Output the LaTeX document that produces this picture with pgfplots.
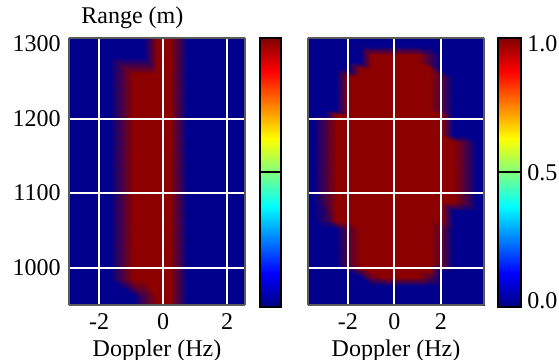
\documentclass[border=0pt]{standalone}
\usepackage{fontspec}
\setmainfont{Liberation Serif}
\usepackage{pgfplots}
\pgfplotsset{compat=1.18}
\pgfplotsset{colormap={navyred}{rgb255=(0,0,140) rgb255=(140,0,0)}}
\pgfplotsset{
  panel/.style={
    scale only axis, width=88bp, height=133.5bp,
    view={0}{90}, axis on top,
    ymin=950, ymax=1308,
    xtick={-2,0,2}, ytick={1000,1100,1200},
    grid=major, grid style={white, line width=1bp},
    major tick length=0pt, ztick=\empty,
    axis line style={black!65, line width=0.6bp},
    /pgf/number format/assume math mode=true,
    /pgf/number format/1000 sep={},
    xlabel={Doppler (Hz)},
    xlabel style={yshift=3bp},
    colormap/jet, point meta min=0, point meta max=1,
    colorbar,
  },
  cbar/.style={
    at={(parent axis.north east)}, anchor=north west,
    height=134.5bp, axis on top,
    ymajorgrids, major grid style={black, line width=1bp},
    axis line style={black, line width=1bp},
    major tick length=0pt,
  },
}
\begin{document}
\fontsize{12bp}{14bp}\selectfont
\begin{tikzpicture}[font=\fontsize{12bp}{14bp}\selectfont]
\useasboundingbox (-34.5bp,-27.5bp) rectangle (245bp,152.5bp);
% left panel
\begin{axis}[panel, name=left, at={(0,0)}, anchor=south west,
  xmin=-2.94, xmax=2.56,
  extra y ticks={1300}, extra y tick style={grid=none},
  colorbar shift/.style={xshift=7.5bp},
  colorbar style={cbar, width=10.5bp, ytick={0.5}, yticklabels={}},
]
\addplot3[surf, shader=interp, colormap name=navyred, mesh/rows=6, mesh/cols=8] coordinates {
(-3,940,0) (-1.66,940,0) (-0.94,940,0) (-0.6,940,0.5) (-0.19,940,1) (0.22,940,1) (0.75,940,0) (2.8,940,0)
(-3,962,0) (-1.66,962,0) (-0.94,962,0) (-0.6,962,0.5) (-0.19,962,1) (0.22,962,1) (0.75,962,0) (2.8,962,0)
(-3,985,0) (-1.66,985,0) (-0.94,985,1) (-0.6,985,1) (-0.19,985,1) (0.22,985,1) (0.75,985,0) (2.8,985,0)
(-3,1260,0) (-1.66,1260,0) (-0.94,1260,1) (-0.6,1260,1) (-0.19,1260,1) (0.22,1260,1) (0.75,1260,0) (2.8,1260,0)
(-3,1283,0) (-1.66,1283,0) (-0.94,1283,0) (-0.6,1283,0) (-0.19,1283,1) (0.22,1283,1) (0.75,1283,0) (2.8,1283,0)
(-3,1320,0) (-1.66,1320,0) (-0.94,1320,0) (-0.6,1320,0) (-0.19,1320,1) (0.22,1320,1) (0.75,1320,0) (2.8,1320,0)
};
\end{axis}
\node[anchor=base west, xshift=2bp, yshift=7bp] at (left.north west) {Range (m)};
% right panel
\begin{axis}[panel, at={(119.5bp,0)}, anchor=south west,
  xmin=-3.72, xmax=3.85, yticklabels={},
  colorbar shift/.style={xshift=7bp},
  colorbar style={cbar, width=11.5bp, ytick={0.5}, yticklabels={0.5},
    extra y ticks={0.022,0.978}, extra y tick labels={0.0,1.0},
    extra y tick style={grid=none},
    yticklabel style={xshift=-1bp}},
]
\addplot3[surf, shader=interp, colormap name=navyred, mesh/rows=20, mesh/cols=17] coordinates {
(-4,940,0) (-3.5,940,0) (-3,940,0) (-2.5,940,0) (-2,940,0) (-1.5,940,0) (-1,940,0) (-0.5,940,0) (0,940,0) (0.5,940,0) (1,940,0) (1.5,940,0) (2,940,0) (2.5,940,0) (3,940,0) (3.5,940,0) (4,940,0)
(-4,975,0) (-3.5,975,0) (-3,975,0) (-2.5,975,0) (-2,975,0) (-1.5,975,0) (-1,975,0) (-0.5,975,0) (0,975,0) (0.5,975,0) (1,975,0) (1.5,975,0) (2,975,0) (2.5,975,0) (3,975,0) (3.5,975,0) (4,975,0)
(-4,987,0) (-3.5,987,0) (-3,987,0) (-2.5,987,0) (-2,987,0) (-1.5,987,0) (-1,987,0.7) (-0.5,987,1) (0,987,1) (0.5,987,1) (1,987,1) (1.5,987,0.6) (2,987,0) (2.5,987,0) (3,987,0) (3.5,987,0) (4,987,0)
(-4,996,0) (-3.5,996,0) (-3,996,0) (-2.5,996,0) (-2,996,0) (-1.5,996,0.6) (-1,996,1) (-0.5,996,1) (0,996,1) (0.5,996,1) (1,996,1) (1.5,996,1) (2,996,0) (2.5,996,0) (3,996,0) (3.5,996,0) (4,996,0)
(-4,1005,0) (-3.5,1005,0) (-3,1005,0) (-2.5,1005,0) (-2,1005,0.6) (-1.5,1005,1) (-1,1005,1) (-0.5,1005,1) (0,1005,1) (0.5,1005,1) (1,1005,1) (1.5,1005,1) (2,1005,0.7) (2.5,1005,0) (3,1005,0) (3.5,1005,0) (4,1005,0)
(-4,1052,0) (-3.5,1052,0) (-3,1052,0) (-2.5,1052,0) (-2,1052,0.6) (-1.5,1052,1) (-1,1052,1) (-0.5,1052,1) (0,1052,1) (0.5,1052,1) (1,1052,1) (1.5,1052,1) (2,1052,0.7) (2.5,1052,0) (3,1052,0) (3.5,1052,0) (4,1052,0)
(-4,1064,0) (-3.5,1064,0) (-3,1064,0.3) (-2.5,1064,1) (-2,1064,1) (-1.5,1064,1) (-1,1064,1) (-0.5,1064,1) (0,1064,1) (0.5,1064,1) (1,1064,1) (1.5,1064,1) (2,1064,1) (2.5,1064,0) (3,1064,0) (3.5,1064,0) (4,1064,0)
(-4,1076,0) (-3.5,1076,0) (-3,1076,0.3) (-2.5,1076,1) (-2,1076,1) (-1.5,1076,1) (-1,1076,1) (-0.5,1076,1) (0,1076,1) (0.5,1076,1) (1,1076,1) (1.5,1076,1) (2,1076,1) (2.5,1076,0) (3,1076,0) (3.5,1076,0) (4,1076,0)
(-4,1088,0) (-3.5,1088,0) (-3,1088,0.5) (-2.5,1088,1) (-2,1088,1) (-1.5,1088,1) (-1,1088,1) (-0.5,1088,1) (0,1088,1) (0.5,1088,1) (1,1088,1) (1.5,1088,1) (2,1088,1) (2.5,1088,1) (3,1088,0.6) (3.5,1088,0) (4,1088,0)
(-4,1168,0) (-3.5,1168,0) (-3,1168,0.5) (-2.5,1168,1) (-2,1168,1) (-1.5,1168,1) (-1,1168,1) (-0.5,1168,1) (0,1168,1) (0.5,1168,1) (1,1168,1) (1.5,1168,1) (2,1168,1) (2.5,1168,1) (3,1168,0.6) (3.5,1168,0) (4,1168,0)
(-4,1178,0) (-3.5,1178,0) (-3,1178,0.5) (-2.5,1178,1) (-2,1178,1) (-1.5,1178,1) (-1,1178,1) (-0.5,1178,1) (0,1178,1) (0.5,1178,1) (1,1178,1) (1.5,1178,1) (2,1178,1) (2.5,1178,0) (3,1178,0) (3.5,1178,0) (4,1178,0)
(-4,1198,0) (-3.5,1198,0) (-3,1198,0.5) (-2.5,1198,1) (-2,1198,1) (-1.5,1198,1) (-1,1198,1) (-0.5,1198,1) (0,1198,1) (0.5,1198,1) (1,1198,1) (1.5,1198,1) (2,1198,1) (2.5,1198,0) (3,1198,0) (3.5,1198,0) (4,1198,0)
(-4,1205,0) (-3.5,1205,0) (-3,1205,0) (-2.5,1205,1) (-2,1205,1) (-1.5,1205,1) (-1,1205,1) (-0.5,1205,1) (0,1205,1) (0.5,1205,1) (1,1205,1) (1.5,1205,1) (2,1205,1) (2.5,1205,0) (3,1205,0) (3.5,1205,0) (4,1205,0)
(-4,1212,0) (-3.5,1212,0) (-3,1212,0) (-2.5,1212,0) (-2,1212,1) (-1.5,1212,1) (-1,1212,1) (-0.5,1212,1) (0,1212,1) (0.5,1212,1) (1,1212,1) (1.5,1212,1) (2,1212,0.6) (2.5,1212,0) (3,1212,0) (3.5,1212,0) (4,1212,0)
(-4,1256,0) (-3.5,1256,0) (-3,1256,0) (-2.5,1256,0) (-2,1256,1) (-1.5,1256,1) (-1,1256,1) (-0.5,1256,1) (0,1256,1) (0.5,1256,1) (1,1256,1) (1.5,1256,1) (2,1256,0.6) (2.5,1256,0) (3,1256,0) (3.5,1256,0) (4,1256,0)
(-4,1266,0) (-3.5,1266,0) (-3,1266,0) (-2.5,1266,0) (-2,1266,0) (-1.5,1266,1) (-1,1266,1) (-0.5,1266,1) (0,1266,1) (0.5,1266,1) (1,1266,1) (1.5,1266,1) (2,1266,0) (2.5,1266,0) (3,1266,0) (3.5,1266,0) (4,1266,0)
(-4,1276,0) (-3.5,1276,0) (-3,1276,0) (-2.5,1276,0) (-2,1276,0) (-1.5,1276,0) (-1,1276,1) (-0.5,1276,1) (0,1276,1) (0.5,1276,1) (1,1276,1) (1.5,1276,0.5) (2,1276,0) (2.5,1276,0) (3,1276,0) (3.5,1276,0) (4,1276,0)
(-4,1285,0) (-3.5,1285,0) (-3,1285,0) (-2.5,1285,0) (-2,1285,0) (-1.5,1285,0) (-1,1285,1) (-0.5,1285,1) (0,1285,1) (0.5,1285,1) (1,1285,1) (1.5,1285,0.5) (2,1285,0) (2.5,1285,0) (3,1285,0) (3.5,1285,0) (4,1285,0)
(-4,1297,0) (-3.5,1297,0) (-3,1297,0) (-2.5,1297,0) (-2,1297,0) (-1.5,1297,0) (-1,1297,0) (-0.5,1297,0) (0,1297,0) (0.5,1297,0) (1,1297,0) (1.5,1297,0) (2,1297,0) (2.5,1297,0) (3,1297,0) (3.5,1297,0) (4,1297,0)
(-4,1320,0) (-3.5,1320,0) (-3,1320,0) (-2.5,1320,0) (-2,1320,0) (-1.5,1320,0) (-1,1320,0) (-0.5,1320,0) (0,1320,0) (0.5,1320,0) (1,1320,0) (1.5,1320,0) (2,1320,0) (2.5,1320,0) (3,1320,0) (3.5,1320,0) (4,1320,0)
};
\end{axis}
\end{tikzpicture}
\end{document}
